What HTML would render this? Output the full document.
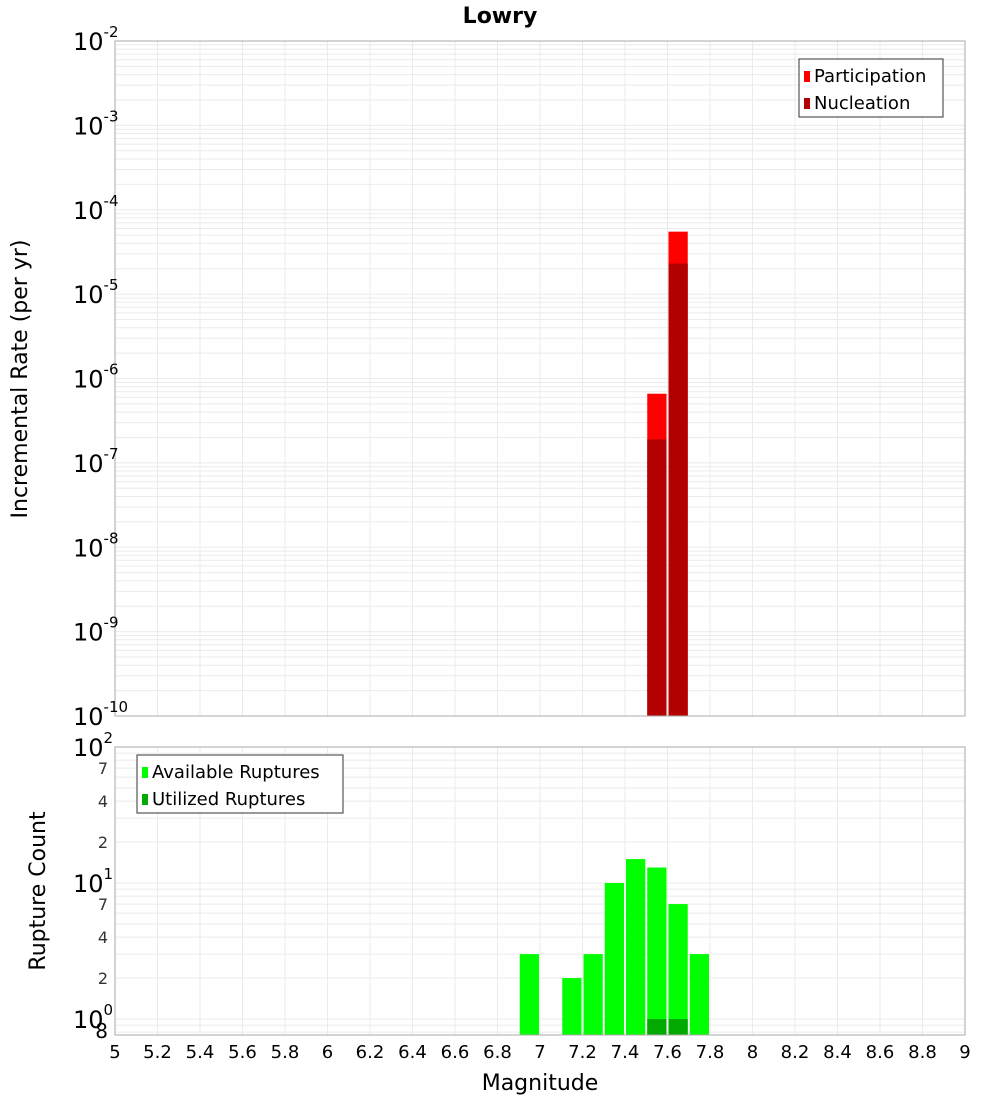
<!DOCTYPE html>
<html><head><meta charset="utf-8"><style>
body{margin:0;background:#fff;}
svg text{font-family:"DejaVu Sans","Liberation Sans",sans-serif;}
</style></head><body>
<svg id="c" width="1000" height="1100" xmlns="http://www.w3.org/2000/svg">
<text x="500" y="23" text-anchor="middle" font-size="22" font-weight="bold">Lowry</text>
<g id="topg"></g><g id="botg"></g>
<text transform="translate(27,379) rotate(-90)" text-anchor="middle" font-size="22">Incremental Rate (per yr)</text>
<text transform="translate(45,891) rotate(-90)" text-anchor="middle" font-size="22">Rupture Count</text>
<text x="540" y="1090" text-anchor="middle" font-size="22">Magnitude</text>
</svg>
<script>
const binStarts=[7.5,7.6];
const participation=[6.6e-7,5.5e-5];
const nucleation=[1.9e-7,2.3e-5];
const availBins=[6.9,7.1,7.2,7.3,7.4,7.5,7.6,7.7];
const available=[3,2,3,10,15,13,7,3];
const utilBins=[7.5,7.6];
const utilized=[1,1];
const xTicks=[5,5.2,5.4,5.6,5.8,6,6.2,6.4,6.6,6.8,7,7.2,7.4,7.6,7.8,8,8.2,8.4,8.6,8.8,9];
const topDecades=[-2,-3,-4,-5,-6,-7,-8,-9,-10];
const botMinor=[2,4,7,20,40,70];

const NS='http://www.w3.org/2000/svg';
const svg=document.getElementById('c');
function el(t,a,p){const e=document.createElementNS(NS,t);for(const k in a)e.setAttribute(k,a[k]);(p||svg).appendChild(e);return e;}
const X0=115,X1=965;
const xs=m=>X0+(m-5)/4*(X1-X0);
const T0=41,T1=716;
const ty=v=>T0+(-2-Math.log10(v))/8*(T1-T0);
const B0=747,B1=1035,BD=136;
const by=v=>883-(Math.log10(v)-1)*BD;

const gTop=document.getElementById('topg'),gBot=document.getElementById('botg');
xTicks.forEach(t=>{
  let l=el('line',{x1:xs(t),x2:xs(t),y1:T0,y2:T1,stroke:'#ebebeb'},gTop);
  
  let l2=el('line',{x1:xs(t),x2:xs(t),y1:B0,y2:B1,stroke:'#ebebeb'},gBot);
  
});
for(let d=-10;d<-2;d++){for(let k=1;k<10;k++){const v=k*Math.pow(10,d);
  let l=el('line',{x1:X0,x2:X1,y1:ty(v),y2:ty(v),stroke:'#ebebeb'},gTop);
  }}
for(let d=-1;d<2;d++){for(let k=1;k<10;k++){const v=k*Math.pow(10,d);const y=by(v);if(y>B1||y<B0)continue;
  let l=el('line',{x1:X0,x2:X1,y1:y,y2:y,stroke:'#ebebeb'},gBot);
  }}
binStarts.forEach((b,i)=>{
  let r=el('rect',{x:xs(b)+1,width:xs(b+0.1)-xs(b)-2,y:ty(participation[i]),height:T1-ty(participation[i]),fill:'#ff0000'},gTop);
  
  let n=el('rect',{x:xs(b)+1,width:xs(b+0.1)-xs(b)-2,y:ty(nucleation[i]),height:T1-ty(nucleation[i]),fill:'#b30000'},gTop);
  
});
availBins.forEach((b,i)=>{
  let r=el('rect',{x:xs(b)+1,width:xs(b+0.1)-xs(b)-2,y:by(available[i]),height:B1-by(available[i]),fill:'#00ff00'},gBot);
  
});
utilBins.forEach((b,i)=>{
  let r=el('rect',{x:xs(b)+1,width:xs(b+0.1)-xs(b)-2,y:by(utilized[i]),height:B1-by(utilized[i]),fill:'#00aa00'},gBot);
  
});
let f1=el('rect',{x:X0,y:T0,width:X1-X0,height:T1-T0,fill:'none',stroke:'#aaa'},gTop);

let f2=el('rect',{x:X0,y:B0,width:X1-X0,height:B1-B0,fill:'none',stroke:'#aaa'},gBot);

topDecades.forEach(d=>{
  const y=ty(Math.pow(10,d));
  const t=el('text',{x:73,y:y+9,'font-size':24},gTop);
  
  t.textContent='10';
  const s=el('tspan',{dy:-13,'font-size':15},t);s.textContent=String(d);
});
[[100,'2'],[10,'1'],[1,'0']].forEach(([v,e])=>{
  const y=by(v);
  const t=el('text',{x:73,y:y+9,'font-size':24},gBot);
  
  t.textContent='10';
  const s=el('tspan',{dy:-13,'font-size':15},t);s.textContent=e;
});
botMinor.concat([0.8]).forEach(v=>{
  const y=by(v);const lab=v>=10?String(v/10):(v<1?'8':String(v));
  const t=el('text',{x:108,y:y+6,'font-size':v<1?20:16,'text-anchor':'end',fill:v<1?'#000':'#333'},gBot);
  
  t.textContent=lab;
});
xTicks.forEach(t=>{
  const tx=el('text',{x:xs(t),y:1058,'font-size':18,'text-anchor':'middle'},gBot);
  
  tx.textContent=String(t);
});
function legend(g,x,y,w,items,name){
  const lg=el('g',{},g);
  el('rect',{x:x,y:y,width:w,height:58,fill:'#fff',stroke:'#333'},lg);
  items.forEach((it,i)=>{
    el('rect',{x:x+5,y:y+12+i*27,width:6,height:11,fill:it[1]},lg);
    const t=el('text',{x:x+15,y:y+23+i*27,'font-size':18},lg);t.textContent=it[0];
  });
}
legend(gTop,799,59,144,[['Participation','#ff0000'],['Nucleation','#b30000']],'top-legend');
legend(gBot,137,755,206,[['Available Ruptures','#00ff00'],['Utilized Ruptures','#00aa00']],'bottom-legend');
</script>
</body></html>
